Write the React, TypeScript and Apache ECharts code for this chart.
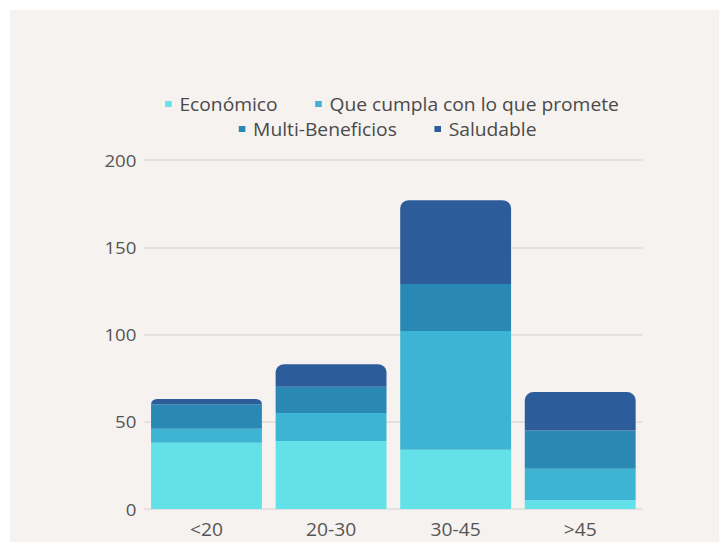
import React, { useEffect, useRef } from "react";
import * as echarts from "echarts";

const categories = ["<20", "20-30", "30-45", ">45"];
const economico = [38, 39, 34, 5];
const queCumpla = [8, 16, 68, 18];
const multiBeneficios = [14, 15, 27, 22];
const saludable = [3, 13, 48, 22];
const seriesNames = ["Económico", "Que cumpla con lo que promete", "Multi-Beneficios", "Saludable"];
const colors = ["#63e1e8", "#3db4d4", "#2a88b5", "#2c5c9a"];

const SX = 1.1;

export default function App() {
  const ref = useRef<HTMLDivElement>(null);
  useEffect(() => {
    if (!ref.current) return;
    const chart = echarts.init(ref.current, null, { renderer: "svg" });
    const data = [economico, queCumpla, multiBeneficios, saludable];
    const legendBase = {
      orient: "horizontal",
      itemWidth: 6,
      itemHeight: 6,
      itemGap: 34,
      icon: "rect",
      textStyle: { fontSize: 17.5, color: "#4a4a4a", fontFamily: "Open Sans", padding: [0, 0, 0, 2] },
    };
    chart.setOption({
      animation: false,
      backgroundColor: "#f6f2ef",
      textStyle: { fontFamily: "Open Sans" },
      color: colors,
      legend: [
        { ...legendBase, top: 80, left: 136, data: seriesNames.slice(0, 2) },
        { ...legendBase, top: 105, left: 203, data: seriesNames.slice(2) },
      ],
      grid: { left: 122, right: 70, top: 150, bottom: 33 },
      xAxis: {
        type: "category",
        data: categories,
        axisLine: { show: false },
        axisTick: { show: false },
        axisLabel: { fontSize: 17.5, color: "#555", margin: 11 },
      },
      yAxis: {
        type: "value",
        min: 0,
        max: 200,
        interval: 50,
        axisLine: { show: false },
        axisTick: { show: false },
        axisLabel: { fontSize: 17, color: "#555", margin: 7 },
        splitLine: { lineStyle: { color: "#e4e0dd", width: 2 } },
      },
      series: seriesNames.map((name, i) => ({
        name,
        type: "bar",
        stack: "total",
        barWidth: "89%",
        data: data[i],
        itemStyle: {
          color: colors[i],
          borderRadius: i === 3 ? [8, 8, 0, 0] : 0,
        },
      })),
    });
    return () => chart.dispose();
  }, []);
  return (
    <div
      ref={ref}
      style={{
        position: "fixed",
        left: 10,
        top: 10,
        width: 710 / SX,
        height: 532,
        transform: `scaleX(${SX})`,
        transformOrigin: "left top",
      }}
    />
  );
}
